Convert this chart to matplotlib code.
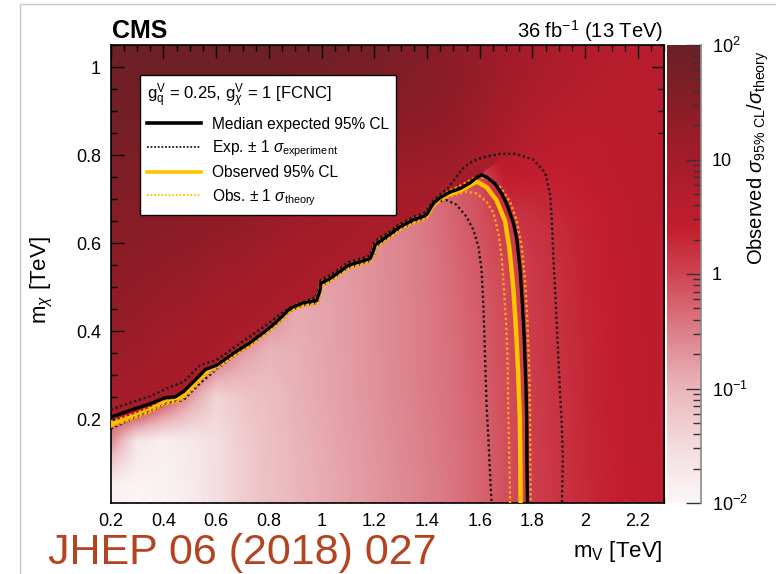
import numpy as np
import matplotlib
matplotlib.use("Agg")
import matplotlib.pyplot as plt
from matplotlib.colors import LinearSegmentedColormap, Normalize, LogNorm
from matplotlib.patches import Polygon
from matplotlib.lines import Line2D
import matplotlib.ticker as mticker
import matplotlib.cm as cm

plt.rcParams['font.family'] = ['Liberation Sans', 'DejaVu Sans']
plt.rcParams['mathtext.fontset'] = 'custom'
plt.rcParams['mathtext.rm'] = 'Liberation Sans'
plt.rcParams['mathtext.it'] = 'Liberation Sans:italic'
plt.rcParams['mathtext.bf'] = 'Liberation Sans:bold'

# ---------------- data ----------------
mv_centers = [0.2, 0.3, 0.4, 0.5, 0.6, 0.7, 0.8, 0.9, 1.0, 1.1, 1.2,
              1.3, 1.4, 1.5, 1.6, 1.7, 1.8, 1.9, 2.0, 2.1, 2.2, 2.3]
mchi_centers = [0.05, 0.15, 0.25, 0.35, 0.45, 0.55, 0.65, 0.75, 0.85, 0.95, 1.05]

# log10(observed sigma_95 / sigma_theory), region above the limit curve
log_ratio_above = [
    [0.85, 0.85, 0.85, 0.85, 0.85, 0.85, 0.85, 0.85, 0.85, 0.85, 0.85, 0.85, 0.85, 0.85, 0.80, 0.10, 0.06, 0.17, 0.28, 0.38, 0.46, 0.52],
    [0.90, 0.85, 0.85, 0.85, 0.85, 0.85, 0.85, 0.85, 0.85, 0.85, 0.85, 0.85, 0.85, 0.85, 0.80, 0.10, 0.07, 0.18, 0.29, 0.39, 0.47, 0.53],
    [1.00, 0.95, 0.90, 0.85, 0.85, 0.85, 0.85, 0.85, 0.85, 0.85, 0.85, 0.85, 0.85, 0.85, 0.80, 0.10, 0.08, 0.19, 0.30, 0.40, 0.48, 0.54],
    [1.15, 1.10, 1.00, 0.95, 0.90, 0.85, 0.85, 0.85, 0.85, 0.85, 0.85, 0.85, 0.85, 0.85, 0.80, 0.15, 0.09, 0.20, 0.31, 0.41, 0.49, 0.55],
    [1.30, 1.25, 1.15, 1.10, 1.00, 0.95, 0.90, 0.85, 0.85, 0.85, 0.85, 0.85, 0.85, 0.85, 0.80, 0.20, 0.10, 0.21, 0.32, 0.42, 0.50, 0.55],
    [1.40, 1.35, 1.30, 1.25, 1.15, 1.10, 1.00, 0.95, 0.90, 0.85, 0.85, 0.85, 0.85, 0.85, 0.80, 0.30, 0.12, 0.23, 0.34, 0.43, 0.51, 0.56],
    [1.50, 1.50, 1.45, 1.40, 1.35, 1.30, 1.20, 1.10, 1.05, 0.95, 0.90, 0.90, 0.85, 0.85, 0.80, 0.45, 0.30, 0.30, 0.36, 0.45, 0.52, 0.57],
    [1.60, 1.60, 1.60, 1.55, 1.50, 1.45, 1.40, 1.35, 1.30, 1.20, 1.15, 1.10, 1.05, 1.00, 0.90, 0.65, 0.45, 0.40, 0.44, 0.50, 0.54, 0.58],
    [1.75, 1.75, 1.70, 1.70, 1.65, 1.65, 1.60, 1.55, 1.50, 1.45, 1.40, 1.35, 1.30, 1.25, 1.05, 0.85, 0.65, 0.55, 0.50, 0.52, 0.55, 0.58],
    [1.85, 1.85, 1.85, 1.85, 1.85, 1.85, 1.85, 1.80, 1.75, 1.70, 1.65, 1.55, 1.45, 1.35, 1.20, 1.00, 0.85, 0.75, 0.65, 0.60, 0.58, 0.58],
    [1.90, 1.90, 1.90, 1.90, 1.90, 1.90, 1.90, 1.90, 1.85, 1.80, 1.75, 1.65, 1.55, 1.40, 1.25, 1.10, 0.95, 0.85, 0.75, 0.65, 0.60, 0.58],
]

# log10 ratio, region below the limit curve
log_ratio_below = [
    [-1.90, -1.95, -1.90, -1.80, -1.55, -1.32, -1.15, -1.02, -0.92, -0.82, -0.72, -0.62, -0.52, -0.42, -0.28, -0.10, 0.06, 0.17, 0.28, 0.38, 0.46, 0.52],
    [-0.60, -1.70, -1.85, -1.75, -1.55, -1.30, -1.13, -1.00, -0.90, -0.80, -0.70, -0.60, -0.50, -0.40, -0.27, -0.09, 0.07, 0.18, 0.29, 0.39, 0.47, 0.53],
    [0.30, 0.80, 0.00, -0.75, -1.40, -1.22, -1.10, -0.97, -0.87, -0.78, -0.68, -0.58, -0.48, -0.38, -0.25, -0.08, 0.08, 0.19, 0.30, 0.40, 0.48, 0.54],
    [0.50, 0.80, 0.50, 0.30, -0.30, -0.80, -1.00, -0.95, -0.86, -0.77, -0.67, -0.57, -0.47, -0.37, -0.22, -0.07, 0.09, 0.20, 0.31, 0.41, 0.49, 0.55],
    [0.60, 0.80, 0.60, 0.50, 0.30, 0.00, -0.60, -0.90, -0.85, -0.77, -0.67, -0.57, -0.47, -0.35, -0.20, -0.05, 0.10, 0.21, 0.32, 0.42, 0.50, 0.55],
    [0.70, 0.80, 0.70, 0.60, 0.50, 0.30, 0.10, -0.30, -0.80, -0.75, -0.66, -0.56, -0.46, -0.32, -0.17, -0.01, 0.12, 0.23, 0.34, 0.43, 0.51, 0.56],
    [0.80, 0.80, 0.80, 0.70, 0.60, 0.50, 0.30, 0.10, -0.30, -0.60, -0.65, -0.55, -0.44, -0.28, -0.12, 0.10, 0.20, 0.28, 0.36, 0.45, 0.52, 0.57],
    [0.90, 0.90, 0.90, 0.80, 0.70, 0.60, 0.50, 0.30, 0.10, -0.20, -0.40, -0.50, -0.42, -0.22, -0.05, 0.45, 0.40, 0.40, 0.44, 0.50, 0.54, 0.58],
    [1.00, 1.00, 1.00, 0.90, 0.80, 0.70, 0.60, 0.50, 0.30, 0.10, -0.10, -0.30, -0.35, -0.10, 0.60, 0.75, 0.65, 0.55, 0.50, 0.52, 0.55, 0.58],
    [1.00, 1.00, 1.00, 1.00, 1.00, 1.00, 1.00, 1.00, 1.00, 1.00, 1.00, 1.00, 1.00, 1.00, 1.00, 1.00, 0.85, 0.75, 0.65, 0.60, 0.58, 0.58],
    [1.00, 1.00, 1.00, 1.00, 1.00, 1.00, 1.00, 1.00, 1.00, 1.00, 1.00, 1.00, 1.00, 1.00, 1.00, 1.10, 0.95, 0.85, 0.75, 0.65, 0.60, 0.58],
]

# Median expected 95% CL
exp_x = [0.200, 0.235, 0.286, 0.349, 0.406, 0.444, 0.476, 0.513, 0.545, 0.558, 0.602, 0.665, 0.728, 0.792, 0.830,
         0.880, 0.931, 0.981, 0.994, 0.997, 1.032, 1.070, 1.102, 1.146, 1.184, 1.196, 1.203, 1.247, 1.297, 1.348,
         1.386, 1.400, 1.411, 1.426, 1.449, 1.487, 1.525, 1.563, 1.590, 1.607, 1.626, 1.658, 1.683, 1.705, 1.727,
         1.740, 1.753, 1.762, 1.769, 1.775, 1.778, 1.779, 1.781]
exp_y = [0.205, 0.212, 0.223, 0.235, 0.249, 0.251, 0.263, 0.285, 0.304, 0.313, 0.323, 0.350, 0.374, 0.403, 0.422,
         0.452, 0.465, 0.470, 0.493, 0.509, 0.520, 0.536, 0.550, 0.558, 0.565, 0.582, 0.596, 0.615, 0.637, 0.653,
         0.661, 0.666, 0.678, 0.692, 0.703, 0.716, 0.724, 0.737, 0.750, 0.755, 0.750, 0.735, 0.713, 0.685, 0.647,
         0.612, 0.540, 0.460, 0.380, 0.280, 0.200, 0.100, 0.010]

# Exp. -1 sigma (inner) and +1 sigma (outer)
exp_in_x = [0.200, 0.286, 0.349, 0.412, 0.476, 0.539, 0.602, 0.665, 0.728, 0.792, 0.830, 0.880, 0.931, 0.985,
            0.994, 1.000, 1.032, 1.070, 1.102, 1.146, 1.184, 1.200, 1.207, 1.247, 1.297, 1.348, 1.390, 1.405,
            1.420, 1.436, 1.474, 1.512, 1.550, 1.576, 1.595, 1.607, 1.614, 1.620, 1.626, 1.633, 1.639, 1.645]
exp_in_y = [0.179, 0.202, 0.218, 0.236, 0.244, 0.282, 0.314, 0.343, 0.368, 0.397, 0.416, 0.446, 0.459, 0.464,
            0.487, 0.503, 0.514, 0.530, 0.544, 0.552, 0.559, 0.576, 0.590, 0.609, 0.631, 0.647, 0.656, 0.665,
            0.686, 0.694, 0.698, 0.687, 0.660, 0.630, 0.592, 0.539, 0.456, 0.342, 0.229, 0.153, 0.077, 0.010]
exp_out_x = [0.200, 0.286, 0.349, 0.412, 0.476, 0.539, 0.602, 0.665, 0.728, 0.792, 0.855, 0.918, 0.978, 0.991,
             0.996, 1.032, 1.070, 1.102, 1.146, 1.184, 1.194, 1.200, 1.247, 1.297, 1.348, 1.386, 1.400, 1.411,
             1.426, 1.449, 1.480, 1.510, 1.540, 1.575, 1.626, 1.680, 1.734, 1.803, 1.848, 1.867, 1.874, 1.879,
             1.886, 1.892, 1.898, 1.904, 1.911, 1.915, 1.912]
exp_out_y = [0.222, 0.240, 0.252, 0.270, 0.285, 0.323, 0.335, 0.362, 0.388, 0.415, 0.444, 0.463, 0.478, 0.500,
             0.516, 0.528, 0.543, 0.557, 0.565, 0.572, 0.590, 0.604, 0.622, 0.644, 0.660, 0.668, 0.675, 0.686,
             0.699, 0.710, 0.725, 0.750, 0.772, 0.787, 0.797, 0.803, 0.803, 0.790, 0.760, 0.710, 0.645, 0.569,
             0.493, 0.418, 0.342, 0.266, 0.191, 0.115, 0.010]

# Observed 95% CL
obs_x = [0.200, 0.286, 0.349, 0.400, 0.444, 0.476, 0.513, 0.539, 0.558, 0.577, 0.602, 0.665, 0.728, 0.792, 0.830,
         0.880, 0.931, 0.981, 0.994, 0.997, 1.032, 1.070, 1.102, 1.146, 1.184, 1.196, 1.203, 1.247, 1.297, 1.348,
         1.386, 1.400, 1.411, 1.426, 1.449, 1.487, 1.520, 1.550, 1.588, 1.626, 1.664, 1.696, 1.712, 1.727, 1.738,
         1.746, 1.752, 1.754, 1.755]
obs_y = [0.188, 0.206, 0.221, 0.238, 0.242, 0.253, 0.274, 0.293, 0.304, 0.316, 0.320, 0.347, 0.371, 0.400, 0.419,
         0.449, 0.462, 0.467, 0.490, 0.506, 0.517, 0.533, 0.547, 0.555, 0.562, 0.579, 0.593, 0.612, 0.634, 0.650,
         0.658, 0.663, 0.675, 0.689, 0.700, 0.712, 0.718, 0.727, 0.740, 0.727, 0.697, 0.650, 0.590, 0.500, 0.400,
         0.300, 0.200, 0.100, 0.010]

# Obs. -1 sigma_theory (inner) and +1 sigma_theory (outer)
obs_in_x = [0.200, 0.286, 0.349, 0.400, 0.444, 0.476, 0.513, 0.539, 0.558, 0.602, 0.665, 0.728, 0.792, 0.830,
            0.880, 0.931, 0.985, 0.994, 1.000, 1.032, 1.070, 1.102, 1.146, 1.184, 1.200, 1.207, 1.247, 1.297,
            1.348, 1.390, 1.405, 1.420, 1.449, 1.487, 1.520, 1.550, 1.588, 1.626, 1.652, 1.671, 1.683, 1.692,
            1.700, 1.705, 1.708, 1.712, 1.715]
obs_in_y = [0.183, 0.201, 0.216, 0.233, 0.237, 0.248, 0.269, 0.288, 0.299, 0.315, 0.342, 0.366, 0.395, 0.414,
            0.444, 0.457, 0.462, 0.485, 0.501, 0.512, 0.528, 0.542, 0.550, 0.557, 0.574, 0.588, 0.607, 0.629,
            0.645, 0.653, 0.660, 0.680, 0.695, 0.706, 0.712, 0.717, 0.713, 0.694, 0.668, 0.622, 0.569, 0.494,
            0.418, 0.342, 0.229, 0.115, 0.010]
obs_out_x = [0.200, 0.286, 0.349, 0.400, 0.444, 0.476, 0.513, 0.539, 0.558, 0.602, 0.665, 0.728, 0.792, 0.830,
             0.880, 0.931, 0.978, 0.991, 0.995, 1.032, 1.070, 1.102, 1.146, 1.184, 1.194, 1.200, 1.247, 1.297,
             1.348, 1.386, 1.400, 1.411, 1.426, 1.449, 1.487, 1.525, 1.560, 1.588, 1.626, 1.677, 1.715, 1.740,
             1.759, 1.772, 1.781, 1.788, 1.791, 1.793]
obs_out_y = [0.195, 0.212, 0.227, 0.244, 0.248, 0.259, 0.280, 0.299, 0.309, 0.325, 0.352, 0.376, 0.405, 0.424,
             0.454, 0.467, 0.472, 0.495, 0.511, 0.522, 0.538, 0.552, 0.560, 0.567, 0.584, 0.598, 0.617, 0.639,
             0.655, 0.663, 0.668, 0.680, 0.694, 0.705, 0.720, 0.730, 0.742, 0.751, 0.747, 0.728, 0.694, 0.652,
             0.592, 0.516, 0.418, 0.304, 0.191, 0.010]

# upper edge of the "below" region to the right of the peak
cut_top_x = [1.62, 1.70, 1.80, 2.35]
cut_top_y = [0.765, 0.795, 0.81, 0.82]

legend_title = r'$\mathrm{g}^{\rm V}_{\rm q}$ = 0.25, $\mathrm{g}^{\rm V}_{\chi}$ = 1 [FCNC]'
legend_labels = ['Median expected 95% CL',
                 r'Exp. $\pm$ 1 $\sigma_{\rm experiment}$',
                 'Observed 95% CL',
                 r'Obs. $\pm$ 1 $\sigma_{\rm theory}$']
cbar_ticks = [1e-2, 1e-1, 1, 10, 100]
cbar_ticklabels = [r'$10^{-2}$', r'$10^{-1}$', '1', '10', r'$10^{2}$']

# ---------------- style ----------------
W, H = 776, 574
fig = plt.figure(figsize=(W / 100, H / 100), dpi=100)
fig.patch.set_facecolor('white')

ax_l, ax_r, ax_t, ax_b = 110.7, 664.3, 45, 503
ax = fig.add_axes([ax_l / W, 1 - ax_b / H, (ax_r - ax_l) / W, (ax_b - ax_t) / H])

cmap = LinearSegmentedColormap.from_list('cmsred', [
    (0.00, '#fbf7f7'),
    (0.12, '#f3dcdf'),
    (0.25, '#eab5ba'),
    (0.37, '#dc808a'),
    (0.50, '#cf4452'),
    (0.60, '#c21e2f'),
    (0.75, '#a51c2a'),
    (0.88, '#851d26'),
    (1.00, '#692126'),
])
norm = Normalize(-2, 2)
dx = (mv_centers[1] - mv_centers[0]) / 2
dy = (mchi_centers[1] - mchi_centers[0]) / 2
extent = [mv_centers[0] - dx, mv_centers[-1] + dx, mchi_centers[0] - dy, mchi_centers[-1] + dy]

ax.imshow(np.array(log_ratio_above), origin='lower', extent=extent, cmap=cmap, norm=norm,
          interpolation='bilinear', interpolation_stage='data', aspect='auto', zorder=1)
im_below = ax.imshow(np.array(log_ratio_below), origin='lower', extent=extent, cmap=cmap, norm=norm,
                     interpolation='bilinear', interpolation_stage='data', aspect='auto', zorder=2)
peak = int(np.argmax(obs_y))
poly_x = [extent[0]] + obs_x[:peak + 1] + cut_top_x + [extent[1], extent[0]]
poly_y = [obs_y[0]] + obs_y[:peak + 1] + cut_top_y + [extent[2], extent[2]]
clip = Polygon(np.column_stack([poly_x, poly_y]), closed=True, transform=ax.transData,
               facecolor='none', edgecolor='none')
im_below.set_clip_path(clip)

dot = (0, (1.0, 1.1))
yellow = '#ffc400'
orange = '#ffa31a'
ax.plot(obs_x, obs_y, color=yellow, lw=3.2, zorder=4, solid_capstyle='round')
ax.plot(exp_in_x, exp_in_y, color='#1a1a1a', lw=1.7, ls=dot, zorder=5)
ax.plot(exp_out_x, exp_out_y, color='#1a1a1a', lw=1.7, ls=dot, zorder=5)
ax.plot(obs_in_x, obs_in_y, color=orange, lw=1.7, ls=dot, zorder=6)
ax.plot(obs_out_x, obs_out_y, color=orange, lw=1.7, ls=dot, zorder=6)
ax.plot(exp_x, exp_y, color='black', lw=2.4, zorder=7)

ax.set_xlim(0.2, 2.3)
ax.set_ylim(0.01, 1.05)
fmt = mticker.FuncFormatter(lambda v, p: f'{v:g}')
ax.xaxis.set_major_locator(mticker.MultipleLocator(0.2))
ax.xaxis.set_minor_locator(mticker.MultipleLocator(0.05))
ax.yaxis.set_major_locator(mticker.MultipleLocator(0.2))
ax.yaxis.set_minor_locator(mticker.MultipleLocator(0.05))
ax.xaxis.set_major_formatter(fmt)
ax.yaxis.set_major_formatter(fmt)
ax.tick_params(which='both', direction='in', top=True, right=True, width=1.0, colors='black')
ax.tick_params(which='major', length=9, labelsize=13, pad=7)
ax.tick_params(which='minor', length=4.5)
for s in ax.spines.values():
    s.set_linewidth(1.2)

handles = [Line2D([], [], color='black', lw=2.6),
           Line2D([], [], color='#1a1a1a', lw=1.3, ls=(0, (1, 1))),
           Line2D([], [], color=yellow, lw=2.6),
           Line2D([], [], color=yellow, lw=1.3, ls=(0, (1, 1)))]
leg = ax.legend(handles, legend_labels, title=legend_title, loc='upper left',
                bbox_to_anchor=(0.053, 0.9345), borderaxespad=0, fontsize=11.2, title_fontsize=12,
                frameon=True, fancybox=False, edgecolor='black', framealpha=1,
                handlelength=3.5, handletextpad=0.7, labelspacing=0.42, borderpad=0.45,
                alignment='left')
leg.get_frame().set_linewidth(1.0)
leg.set_zorder(10)

# colorbar
cax = fig.add_axes([667 / W, 1 - ax_b / H, 34 / W, (ax_b - ax_t) / H])
sm = cm.ScalarMappable(norm=LogNorm(1e-2, 1e2), cmap=cmap)
cb = fig.colorbar(sm, cax=cax)
cb.outline.set_visible(False)
cax.spines['right'].set_visible(True)
cax.spines['right'].set_color('#8a8a8a')
cax.spines['right'].set_linewidth(1.2)
cb.set_ticks(cbar_ticks)
cb.set_ticklabels(cbar_ticklabels)
cax.yaxis.set_minor_locator(mticker.LogLocator(base=10, subs=np.arange(2, 10)))
cax.yaxis.set_minor_formatter(mticker.NullFormatter())
cax.tick_params(which='both', direction='in', right=True, left=False, colors='#333333', width=1.0)
cax.tick_params(which='major', length=11, labelsize=13, pad=8, labelcolor='black')
cax.tick_params(which='minor', length=5.5)

# texts
fig.text(112 / W, 1 - 31 / H, 'CMS', fontsize=18, fontweight='bold', ha='left', va='center')
fig.text(663 / W, 1 - 31 / H, r'36 fb$^{-1}$ (13 TeV)', fontsize=14.5, ha='right', va='center')
fig.text(42 / W, 1 - 280 / H, r'm$_{\chi}$ [TeV]', rotation=90, fontsize=16, ha='center', va='center')
fig.text(663 / W, 1 - 552 / H, r'm$_{\rm V}$ [TeV]', fontsize=16, ha='right', va='center')
fig.text(758 / W, 1 - 158 / H, r'Observed $\sigma_{\rm 95\%\ CL}/\sigma_{\rm theory}$', rotation=90,
         fontsize=14.5, ha='center', va='center')
fig.text(48 / W, 1 - 553 / H, 'JHEP 06 (2018) 027', fontsize=31, color='#b5431f',
         ha='left', va='center')

# slide frame lines
fig.add_artist(Line2D([20 / W, 1], [1 - 4 / H, 1 - 4 / H], transform=fig.transFigure, color='#c8c8c8', lw=1))
fig.add_artist(Line2D([20 / W, 20 / W], [0, 1 - 4 / H], transform=fig.transFigure, color='#c8c8c8', lw=1))

fig.savefig('out.png', dpi=100, facecolor='white')
